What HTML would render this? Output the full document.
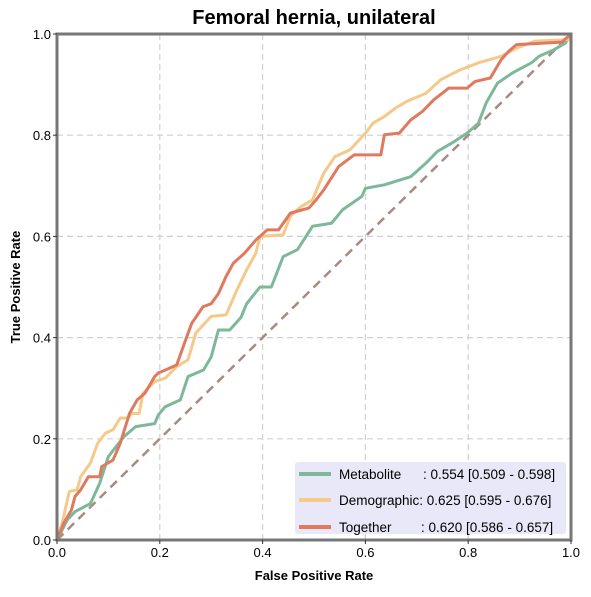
<!DOCTYPE html>
<html><head><meta charset="utf-8"><style>
body{margin:0;background:#fff;}
svg text{font-family:"Liberation Sans",Arial,sans-serif;}
</style></head><body>
<svg id="chart" width="591" height="592" viewBox="0 0 591 592" xmlns="http://www.w3.org/2000/svg">
<rect width="591" height="592" fill="#fff"/>
<text x="314" y="24" text-anchor="middle" font-size="20" font-weight="bold">Femoral hernia, unilateral</text>
<g id="grid"></g>
<g id="series"></g>
<rect x="57" y="34" width="514" height="506" fill="none" stroke="#777" stroke-width="3"/>
<g id="ticks"></g>
<text x="314" y="580" text-anchor="middle" font-size="13" font-weight="bold">False Positive Rate</text>
<text transform="translate(20,287) rotate(-90)" text-anchor="middle" font-size="13" font-weight="bold">True Positive Rate</text>
<g>
<rect x="295" y="462" width="271" height="72" rx="3" fill="#e8e8f8"/>
<g><line x1="299" y1="474" x2="331" y2="474" stroke="#7db89a" stroke-width="4"/><text x="339" y="479" font-size="13.5">Metabolite</text><text x="423" y="479" font-size="13.5">: 0.554 [0.509 - 0.598]</text></g>
<g><line x1="299" y1="500" x2="331" y2="500" stroke="#f4c98a" stroke-width="4"/><text x="339" y="501" font-size="13.5" dy="4">Demographic: 0.625 [0.595 - 0.676]</text></g>
<g><line x1="299" y1="527" x2="331" y2="527" stroke="#e07a5f" stroke-width="4"/><text x="339" y="532" font-size="13.5">Together</text><text x="421" y="532" font-size="13.5">: 0.620 [0.586 - 0.657]</text></g>
</g>
</svg>
<script>
const ticks=[0,0.2,0.4,0.6,0.8,1.0];
const tickLabels=["0.0","0.2","0.4","0.6","0.8","1.0"];
const metaFpr=[0,0.02,0.035,0.065,0.083,0.1,0.13,0.153,0.19,0.197,0.21,0.24,0.255,0.285,0.3,0.314,0.336,0.358,0.369,0.395,0.417,0.44,0.468,0.497,0.534,0.556,0.593,0.6,0.637,0.688,0.718,0.74,0.769,0.798,0.82,0.835,0.857,0.886,0.923,0.938,0.967,0.989,1];
const metaTpr=[0,0.04,0.056,0.072,0.112,0.165,0.204,0.224,0.23,0.247,0.263,0.277,0.323,0.336,0.362,0.415,0.415,0.44,0.467,0.5,0.5,0.56,0.574,0.62,0.626,0.653,0.679,0.695,0.702,0.718,0.745,0.768,0.785,0.804,0.824,0.864,0.903,0.923,0.943,0.956,0.969,0.982,1];
const demoFpr=[0,0.01,0.024,0.039,0.046,0.065,0.079,0.094,0.109,0.123,0.138,0.145,0.16,0.167,0.19,0.211,0.233,0.255,0.27,0.3,0.329,0.35,0.369,0.387,0.395,0.44,0.454,0.475,0.497,0.508,0.519,0.541,0.57,0.6,0.615,0.637,0.659,0.681,0.718,0.747,0.784,0.82,0.864,0.894,0.93,0.996,1];
const demoTpr=[0,0.033,0.096,0.099,0.125,0.152,0.191,0.211,0.218,0.241,0.241,0.25,0.25,0.29,0.313,0.32,0.343,0.356,0.409,0.442,0.445,0.494,0.534,0.567,0.6,0.603,0.64,0.659,0.672,0.699,0.725,0.758,0.771,0.804,0.824,0.837,0.854,0.867,0.883,0.91,0.929,0.943,0.956,0.972,0.986,0.989,1];
const togFpr=[0,0.013,0.028,0.035,0.046,0.061,0.083,0.087,0.109,0.123,0.141,0.156,0.171,0.19,0.197,0.211,0.233,0.248,0.262,0.284,0.3,0.314,0.329,0.343,0.365,0.387,0.409,0.431,0.454,0.49,0.504,0.519,0.548,0.578,0.63,0.637,0.666,0.688,0.711,0.733,0.762,0.798,0.813,0.843,0.864,0.879,0.894,0.982,1];
const togTpr=[0,0.033,0.059,0.086,0.099,0.125,0.125,0.145,0.158,0.191,0.25,0.277,0.29,0.323,0.33,0.336,0.346,0.389,0.428,0.461,0.467,0.487,0.521,0.547,0.567,0.593,0.613,0.613,0.646,0.656,0.672,0.692,0.738,0.761,0.761,0.801,0.804,0.83,0.847,0.87,0.893,0.893,0.906,0.913,0.949,0.966,0.979,0.984,1];
const NS="http://www.w3.org/2000/svg";
const X0=57,X1=571,Y0=540,Y1=34;
const sx=v=>X0+v*(X1-X0), sy=v=>Y0-v*(Y0-Y1);
function mk(t,a,p){const e=document.createElementNS(NS,t);for(const k in a)e.setAttribute(k,a[k]);p.appendChild(e);return e;}
const grid=document.getElementById('grid'),tk=document.getElementById('ticks'),ser=document.getElementById('series');
ticks.forEach((t,i)=>{
 if(t>0&&t<1){
  const gv=mk('line',{x1:sx(t),x2:sx(t),y1:Y1,y2:Y0,stroke:'#d0d0d0','stroke-width':1.2,'stroke-dasharray':'6,4'},grid);
  
  
  const gh=mk('line',{x1:X0,x2:X1,y1:sy(t),y2:sy(t),stroke:'#d0d0d0','stroke-width':1.2,'stroke-dasharray':'6,4'},grid);
  
  
 }
 mk('line',{x1:sx(t),x2:sx(t),y1:Y0,y2:Y0+4,stroke:'#333'},tk);
 mk('line',{x1:X0-4,x2:X0,y1:sy(t),y2:sy(t),stroke:'#333'},tk);
 const xl=mk('text',{x:sx(t),y:557,'text-anchor':'middle','font-size':13},tk);xl.textContent=tickLabels[i];
 
 
 const yl=mk('text',{x:X0-6,y:sy(t)+5,'text-anchor':'end','font-size':13},tk);yl.textContent=tickLabels[i];
 
 
});
const diag=mk('line',{x1:sx(0),y1:sy(0),x2:sx(1),y2:sy(1),stroke:'#a88a80','stroke-width':2.5,'stroke-dasharray':'9,6'},ser);


function line(xs,ys,c,name){
 const p=mk('polyline',{points:xs.map((x,i)=>sx(x)+','+sy(ys[i])).join(' '),fill:'none',stroke:c,'stroke-width':3,'stroke-linejoin':'round'},ser);
 
 
}
line(metaFpr,metaTpr,'#7db89a','metabolite-roc-line');
line(demoFpr,demoTpr,'#f4c98a','demographic-roc-line');
line(togFpr,togTpr,'#e07a5f','together-roc-line');
</script>
</body></html>
